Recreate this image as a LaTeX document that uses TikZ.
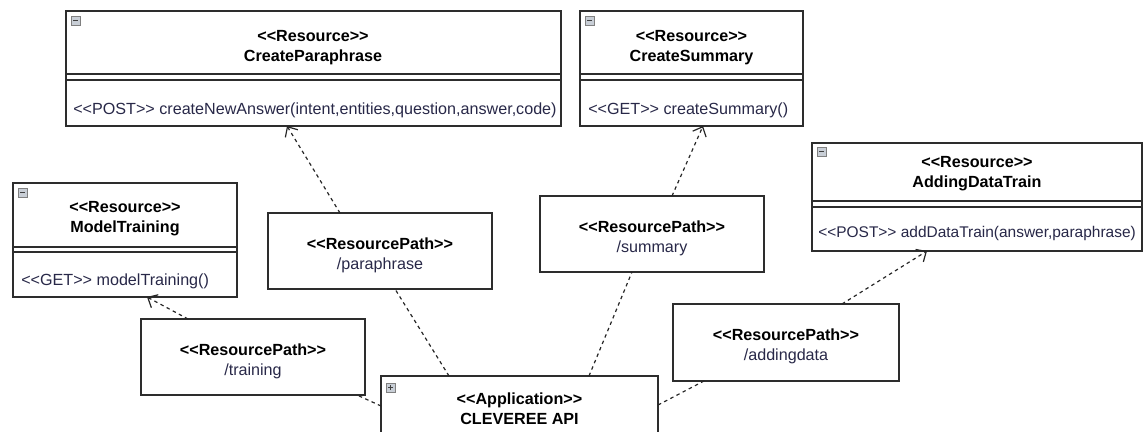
\documentclass[tikz,border=0pt]{standalone}
\usepackage{fontspec}
\setmainfont{Liberation Sans}[Ligatures=TeXOff]
\usetikzlibrary{arrows.meta, positioning, calc, fit}

\definecolor{boxline}{RGB}{45,45,45}
\definecolor{txtblue}{RGB}{40,40,72}
\definecolor{icongray}{RGB}{200,206,214}

\newcommand{\umlfont}{\fontsize{12.1}{15}\selectfont}
\newcommand{\stype}[1]{\textless\kern0pt\textless#1\textgreater\kern0pt\textgreater}
% small collapse / expand icons in the box corners
\newcommand{\minusicon}[1]{%
  \draw[iconbox] (#1) rectangle ++(9,9);
  \draw[line width=0.9pt, black!75] ($(#1)+(2,4.5)$) -- ++(5,0);}
\newcommand{\plusicon}[1]{%
  \minusicon{#1}
  \draw[line width=0.9pt, black!75] ($(#1)+(4.5,2)$) -- ++(0,5);}

\tikzset{
  umlbox/.style={draw=boxline, line width=1.2pt, inner sep=0pt, outer sep=0pt, fill=white},
  title/.style={align=center, font=\umlfont\bfseries, text=black},
  pathtext/.style={align=center, font=\umlfont, text=txtblue},
  method/.style={anchor=west, inner sep=0pt, text=txtblue, font=\umlfont},
  sep/.style={draw=boxline, line width=1.2pt},
  dep/.style={draw=black!85, line width=0.9pt, dash pattern=on 2.6pt off 2.6pt},
  usedep/.style={dep, -{Straight Barb[length=6pt,width=11pt]}},
  iconbox/.style={draw=gray, fill=icongray, line width=0.5pt},
}

\begin{document}
\begin{tikzpicture}[x=0.75pt, y=-0.75pt]
\useasboundingbox (0,0) rectangle (1147,432);

% CreateParaphrase resource
\node[umlbox, fit={(66,11) (561,126)}] (cp) {};
\node[title] (cp-t) at (313,47.5) {\stype{Resource}\\CreateParaphrase};
\draw[sep] (66,74) -- (561,74) (66,80) -- (561,80);
\node[method] (cp-m) at (73,110) {\stype{POST} createNewAnswer(intent,entities,question,answer,code)};
\minusicon{71,16}

% CreateSummary resource
\node[umlbox, fit={(580,11) (803,126)}] (cs) {};
\node[title] (cs-t) at (691.5,47.5) {\stype{Resource}\\CreateSummary};
\draw[sep] (580,74) -- (803,74) (580,80) -- (803,80);
\node[method] (cs-m) at (588,110) {\stype{GET} createSummary()};
\minusicon{585,16}

% ModelTraining resource
\node[umlbox, fit={(13,183) (237,297)}] (mt) {};
\node[title] (mt-t) at (125,219) {\stype{Resource}\\ModelTraining};
\draw[sep] (13,247) -- (237,247) (13,252) -- (237,252);
\node[method] (mt-m) at (21,281) {\stype{GET} modelTraining()};
\minusicon{18,188}

% AddingDataTrain resource
\node[umlbox, fit={(812,143) (1142,251)}] (ad) {};
\node[title] (ad-t) at (977,174) {\stype{Resource}\\AddingDataTrain};
\draw[sep] (812,201) -- (1142,201) (812,207) -- (1142,207);
\node[method, font=\fontsize{11.6}{14}\selectfont] (ad-m) at (818,233) {\stype{POST} addDataTrain(answer,paraphrase)};
\minusicon{817,147}

% resource paths
\node[umlbox, fit={(268,213) (492,289)}] (pp) {};
\node[pathtext] (pp-t) at (380,255.5) {\textbf{\color{black}\stype{ResourcePath}}\\/paraphrase};
\node[umlbox, fit={(540,196) (764,272)}] (ps) {};
\node[pathtext] (ps-t) at (652,238) {\textbf{\color{black}\stype{ResourcePath}}\\/summary};
\node[umlbox, fit={(141,319) (365,395)}] (pt) {};
\node[pathtext] (pt-t) at (253,361) {\textbf{\color{black}\stype{ResourcePath}}\\/training};
\node[umlbox, fit={(673,304) (899,381)}] (pa) {};
\node[pathtext] (pa-t) at (786,346) {\textbf{\color{black}\stype{ResourcePath}}\\/addingdata};

% application
\node[umlbox, fit={(381,376) (658,470)}] (app) {};
\node[title] (app-t) at (519.5,409) {\stype{Application}\\CLEVEREE API};
\plusicon{386,383}

% dependencies
\draw[usedep] ($(pp.north west)+(72,0)$) -- ($(cp.south west)+(221,0)$);
\draw[usedep] ($(ps.north west)+(132,0)$) -- ($(cs.south west)+(123,0)$);
\draw[usedep] ($(pt.north west)+(47,0)$) -- ($(mt.south west)+(134,0)$);
\draw[usedep] ($(pa.north west)+(169,0)$) -- ($(ad.south west)+(115,0)$);
\draw[dep] ($(app.north west)+(68,0)$) -- ($(pp.south west)+(127,0)$);
\draw[dep] ($(app.north west)+(208,0)$) -- ($(ps.south west)+(92,0)$);
\draw[dep] ($(app.north west)+(0,30)$) -- ($(pt.south west)+(216,0)$);
\draw[dep] ($(app.north east)+(0,29)$) -- ($(pa.south west)+(31,0)$);
\end{tikzpicture}
\end{document}
